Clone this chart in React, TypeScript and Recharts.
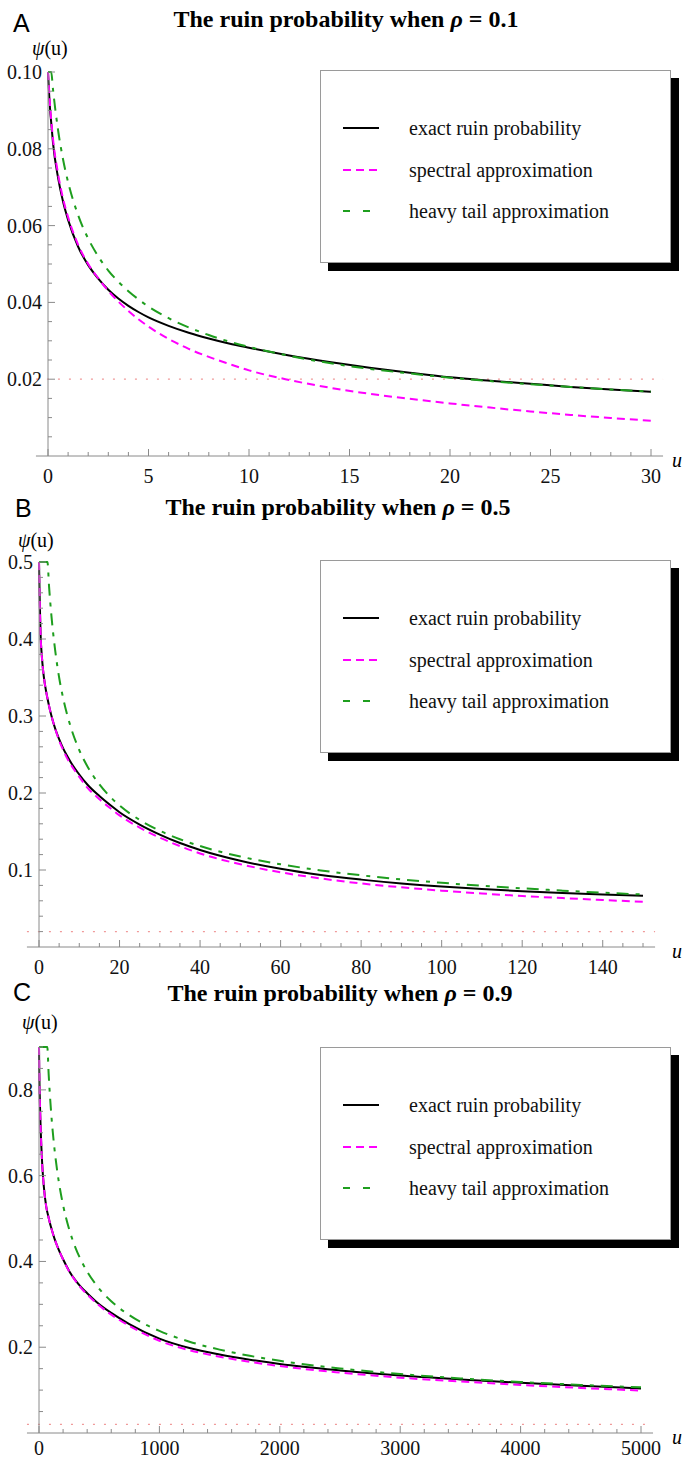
import React from 'react';
import { LineChart, Line, XAxis, YAxis, ReferenceLine, Legend } from 'recharts';

// ---------- Panel A (rho = 0.1) ----------
const uA = [0, 0.1, 0.16, 0.25, 0.5, 0.75, 1, 1.5, 2, 2.5, 3, 3.5, 4, 4.5, 5, 6, 7, 8, 9, 10, 12, 14, 16, 18, 20, 22, 24, 26, 28, 30];
const exactA = [0.1, 0.0905, 0.0868, 0.0815, 0.0725, 0.0662, 0.0615, 0.0545, 0.0497, 0.0462, 0.0433, 0.041, 0.0391, 0.0375, 0.0361, 0.0339, 0.0321, 0.0306, 0.0293, 0.0282, 0.0262, 0.0245, 0.023, 0.0217, 0.0205, 0.0196, 0.0188, 0.018, 0.0173, 0.0167];
const spectralA = [0.1, 0.0915, 0.0875, 0.0825, 0.0735, 0.067, 0.0622, 0.055, 0.05, 0.0463, 0.043, 0.0402, 0.0378, 0.0356, 0.0337, 0.0305, 0.0279, 0.0258, 0.024, 0.0223, 0.0198, 0.0178, 0.0162, 0.0149, 0.0137, 0.0126, 0.0116, 0.0107, 0.0099, 0.0092];
const heavyA = [0.1, 0.1, 0.1, 0.0954, 0.0849, 0.0772, 0.0713, 0.0627, 0.0566, 0.052, 0.0483, 0.0454, 0.0429, 0.0408, 0.0389, 0.0359, 0.0335, 0.0315, 0.0298, 0.0284, 0.0261, 0.0242, 0.0227, 0.0215, 0.0204, 0.0195, 0.0187, 0.018, 0.0173, 0.0168];
const xLabelsA = [0, 5, 10, 15, 20, 25, 30];
const yLabelsA = [0.02, 0.04, 0.06, 0.08, 0.1];

// ---------- Panel B (rho = 0.5) ----------
const uB = [0, 0.2, 0.4, 0.7, 1, 1.5, 2.1, 2.5, 3, 4, 5, 6, 7, 8, 10, 12, 15, 18, 20, 25, 30, 35, 40, 50, 60, 70, 80, 90, 100, 110, 120, 130, 140, 150];
const exactB = [0.5, 0.445, 0.405, 0.378, 0.36, 0.34, 0.323, 0.313, 0.302, 0.284, 0.27, 0.258, 0.248, 0.239, 0.224, 0.211, 0.196, 0.183, 0.175, 0.159, 0.146, 0.135, 0.126, 0.112, 0.1015, 0.0935, 0.0875, 0.0825, 0.0785, 0.0752, 0.0725, 0.0702, 0.0682, 0.0665];
const spectralB = [0.5, 0.445, 0.405, 0.378, 0.36, 0.34, 0.323, 0.313, 0.302, 0.284, 0.268, 0.256, 0.245, 0.236, 0.221, 0.207, 0.192, 0.179, 0.171, 0.155, 0.142, 0.131, 0.1215, 0.1075, 0.097, 0.089, 0.0825, 0.0775, 0.0732, 0.0695, 0.0663, 0.0635, 0.061, 0.0588];
const heavyB = [0.5, 0.5, 0.5, 0.5, 0.5, 0.5, 0.5, 0.468, 0.435, 0.386, 0.35, 0.323, 0.3015, 0.2837, 0.2557, 0.2348, 0.2112, 0.1935, 0.1839, 0.165, 0.151, 0.14, 0.1311, 0.1175, 0.1074, 0.0995, 0.0931, 0.0878, 0.0834, 0.0795, 0.0762, 0.0732, 0.0705, 0.0682];
const xLabelsB = [0, 20, 40, 60, 80, 100, 120, 140];
const yLabelsB = [0.1, 0.2, 0.3, 0.4, 0.5];

// ---------- Panel C (rho = 0.9) ----------
const uC = [0, 2, 5, 10, 15, 20, 27, 40, 60, 69, 80, 90, 100, 130, 150, 175, 200, 250, 300, 350, 400, 480, 600, 750, 1000, 1250, 1500, 1750, 2000, 2500, 3000, 3500, 4000, 4500, 5000];
const exactC = [0.9, 0.85, 0.8, 0.745, 0.7, 0.665, 0.625, 0.575, 0.528, 0.515, 0.502, 0.49, 0.48, 0.452, 0.437, 0.42, 0.405, 0.378, 0.357, 0.34, 0.326, 0.305, 0.28, 0.254, 0.22, 0.198, 0.183, 0.171, 0.161, 0.146, 0.134, 0.125, 0.117, 0.11, 0.104];
const spectralC = [0.9, 0.85, 0.8, 0.745, 0.7, 0.665, 0.625, 0.575, 0.528, 0.515, 0.502, 0.49, 0.48, 0.452, 0.437, 0.42, 0.405, 0.377, 0.356, 0.338, 0.323, 0.302, 0.276, 0.25, 0.215, 0.193, 0.178, 0.166, 0.156, 0.141, 0.129, 0.12, 0.112, 0.105, 0.099];
const heavyC = [0.9, 0.9, 0.9, 0.9, 0.9, 0.9, 0.9, 0.9, 0.9, 0.9, 0.838, 0.7906, 0.7504, 0.6587, 0.6134, 0.5681, 0.5315, 0.4756, 0.4342, 0.4021, 0.3762, 0.3434, 0.3072, 0.2748, 0.238, 0.2129, 0.1944, 0.18, 0.1683, 0.1506, 0.1375, 0.1273, 0.119, 0.1122, 0.1065];
const xLabelsC = [0, 1000, 2000, 3000, 4000, 5000];
const yLabelsC = [0.2, 0.4, 0.6, 0.8];

const seriesNames = ['exact ruin probability', 'spectral approximation', 'heavy tail approximation'];
const legendDash = ['', '8 5', '7 13'];
const seriesColors = ['#000000', '#ff00ff', '#1e9e1e'];
const seriesDash = ['', '8 5', '12 7 4 7'];

const AXIS = '#8a8a8a';
const SERIF = '"Liberation Serif", "Times New Roman", serif';
const SANS = '"Liberation Sans", Arial, sans-serif';

function range(step: number, max: number): number[] {
  const out: number[] = [];
  const n = Math.round(max / step);
  for (let i = 0; i <= n; i++) out.push(+(i * step).toFixed(6));
  return out;
}
const isIn = (arr: number[], v: number) => arr.some((a) => Math.abs(a - v) < 1e-9);

type PanelProps = {
  top: number;
  height: number;
  plotLeft: number;
  plotTop: number;
  plotRight: number;
  plotBottom: number;
  u: number[];
  exact: number[];
  spectral: number[];
  heavy: number[];
  xMax: number;
  yMax: number;
  xOver: number;
  xMinor: number;
  yMinor: number;
  xLabels: number[];
  yLabels: number[];
  yDigits: number;
  legendTop: number;
  refY: number;
  labelGap: number;
};

function LegendBox() {
  return (
    <div
      style={{
        width: 351,
        height: 193,
        boxSizing: 'border-box',
        border: '1px solid #9a9a9a',
        background: '#fff',
        boxShadow: '8px 8px 0 0 #000',
        position: 'relative',
        fontFamily: SERIF,
        fontSize: 20,
      }}
    >
      {seriesNames.map((name, i) => (
        <div key={name} style={{ position: 'absolute', left: 0, top: 57 + i * 41.5 - 15, height: 30, width: 351 }}>
          <svg width={60} height={30} style={{ position: 'absolute', left: 22, top: 0 }}>
            <line x1={0} y1={15} x2={36} y2={15} stroke={seriesColors[i]} strokeWidth={2} strokeDasharray={legendDash[i] || undefined} />
          </svg>
          <span style={{ position: 'absolute', left: 88, top: 0, lineHeight: '30px', whiteSpace: 'nowrap', color: '#111' }}>{name}</span>
        </div>
      ))}
    </div>
  );
}

function Panel(p: PanelProps) {
  const data = p.u.map((u, i) => ({ u, exact: p.exact[i], spectral: p.spectral[i], heavy: p.heavy[i] }));
  const xTicks = range(p.xMinor, p.xMax);
  const yTicks = range(p.yMinor, p.yMax).filter((v) => v > 0);

  const XTick = (props: any) => {
    const { x, y, payload } = props;
    const major = isIn(p.xLabels, payload.value);
    return (
      <g>
        <line x1={x} y1={y} x2={x} y2={y - (major ? 7 : 4)} stroke={AXIS} strokeWidth={1} />
        {major && (
          <text x={x} y={y + p.labelGap} dy="0.35em" textAnchor="middle" fontFamily={SERIF} fontSize={20} fill="#111">
            {payload.value}
          </text>
        )}
      </g>
    );
  };
  const YTick = (props: any) => {
    const { x, y, payload } = props;
    const major = isIn(p.yLabels, payload.value);
    return (
      <g>
        <line x1={x} y1={y} x2={x + (major ? 7 : 4)} y2={y} stroke={AXIS} strokeWidth={1} />
        {major && (
          <text x={x - 6} y={y} dy="0.35em" textAnchor="end" fontFamily={SERIF} fontSize={20} fill="#111">
            {Number(payload.value).toFixed(p.yDigits)}
          </text>
        )}
      </g>
    );
  };

  return (
    <div style={{ position: 'absolute', left: 0, top: p.top }}>
      <LineChart
        width={692}
        height={p.height}
        data={data}
        margin={{ top: p.plotTop, right: 692 - p.plotRight, left: 0, bottom: 0 }}
      >
        <XAxis
          dataKey="u"
          type="number"
          domain={[0, p.xMax]}
          ticks={xTicks}
          interval={0}
          axisLine={false}
          tickLine={false}
          tickSize={0}
          tickMargin={0}
          height={p.height - p.plotBottom}
          tick={XTick}
        />
        <YAxis
          type="number"
          domain={[0, p.yMax]}
          ticks={yTicks}
          interval={0}
          width={p.plotLeft}
          axisLine={{ stroke: AXIS }}
          tickLine={false}
          tickSize={0}
          tickMargin={0}
          tick={YTick}
        />
        <ReferenceLine
          segment={[{ x: -p.xOver, y: p.refY }, { x: p.xMax + p.xOver, y: p.refY }]}
          stroke="#f09a9a"
          strokeWidth={1.3}
          strokeDasharray="2 9"
          ifOverflow="visible"
        />
        <ReferenceLine
          segment={[{ x: -p.xOver, y: 0 }, { x: p.xMax + p.xOver, y: 0 }]}
          stroke={AXIS}
          ifOverflow="visible"
        />
        <Line dataKey="exact" name={seriesNames[0]} type="monotone" stroke={seriesColors[0]} strokeWidth={2} dot={false} isAnimationActive={false} />
        <Line dataKey="spectral" name={seriesNames[1]} type="monotone" stroke={seriesColors[1]} strokeWidth={2} strokeDasharray={seriesDash[1]} dot={false} isAnimationActive={false} />
        <Line dataKey="heavy" name={seriesNames[2]} type="monotone" stroke={seriesColors[2]} strokeWidth={2} strokeDasharray={seriesDash[2]} dot={false} isAnimationActive={false} />
        <Legend
          layout="vertical"
          align="center"
          verticalAlign="middle"
          wrapperStyle={{ position: 'absolute', left: 320, top: p.legendTop, width: 351, height: 193 }}
          content={() => <LegendBox />}
        />
      </LineChart>
    </div>
  );
}

function Title(props: { cx: number; cy: number; rho: string }) {
  return (
    <div
      style={{
        position: 'absolute',
        left: props.cx - 300,
        top: props.cy - 15,
        width: 600,
        lineHeight: '30px',
        textAlign: 'center',
        fontFamily: SERIF,
        fontWeight: 'bold',
        fontSize: 24,
        whiteSpace: 'nowrap',
      }}
    >
      The ruin probability when <i>ρ</i> = {props.rho}
    </div>
  );
}

function Label(props: { x: number; cy: number; text: React.ReactNode; font: string; size: number; italic?: boolean }) {
  return (
    <div
      style={{
        position: 'absolute',
        left: props.x,
        top: props.cy - 15,
        lineHeight: '30px',
        fontFamily: props.font,
        fontSize: props.size,
        fontStyle: props.italic ? 'italic' : 'normal',
        whiteSpace: 'nowrap',
      }}
    >
      {props.text}
    </div>
  );
}

const psi = (
  <span>
    <i>ψ</i>(u)
  </span>
);

export default function App() {
  return (
    <div style={{ position: 'absolute', left: 0, top: 0, width: 692, height: 1460, background: '#fff', overflow: 'hidden' }}>
      <Panel
        top={0}
        height={500}
        plotLeft={48}
        plotTop={72}
        plotRight={651}
        plotBottom={456}
        u={uA}
        exact={exactA}
        spectral={spectralA}
        heavy={heavyA}
        xMax={30}
        yMax={0.1}
        xOver={0.6}
        xMinor={1}
        yMinor={0.005}
        xLabels={xLabelsA}
        yLabels={yLabelsA}
        yDigits={2}
        legendTop={70}
        refY={0.02}
        labelGap={20}
      />
      <Panel
        top={488}
        height={500}
        plotLeft={39}
        plotTop={74}
        plotRight={643}
        plotBottom={459}
        u={uB}
        exact={exactB}
        spectral={spectralB}
        heavy={heavyB}
        xMax={150}
        yMax={0.5}
        xOver={3}
        xMinor={5}
        yMinor={0.02}
        xLabels={xLabelsB}
        yLabels={yLabelsB}
        yDigits={1}
        legendTop={72}
        refY={0.02}
        labelGap={20}
      />
      <Panel
        top={975}
        height={485}
        plotLeft={39}
        plotTop={72}
        plotRight={641}
        plotBottom={458}
        u={uC}
        exact={exactC}
        spectral={spectralC}
        heavy={heavyC}
        xMax={5000}
        yMax={0.9}
        xOver={100}
        xMinor={200}
        yMinor={0.05}
        xLabels={xLabelsC}
        yLabels={yLabelsC}
        yDigits={1}
        legendTop={72}
        refY={0.02}
        labelGap={15}
      />
      <Title cx={346} cy={19} rho="0.1" />
      <Title cx={338} cy={507} rho="0.5" />
      <Title cx={340} cy={993} rho="0.9" />
      <Label x={13} cy={23} text="A" font={SANS} size={25} />
      <Label x={15} cy={508} text="B" font={SANS} size={25} />
      <Label x={13} cy={992} text="C" font={SANS} size={25} />
      <Label x={32} cy={48} text={psi} font={SERIF} size={20} />
      <Label x={18} cy={540} text={psi} font={SERIF} size={20} />
      <Label x={22} cy={1022} text={psi} font={SERIF} size={20} />
      <Label x={672} cy={460} text="u" font={SERIF} size={20} italic />
      <Label x={672} cy={951} text="u" font={SERIF} size={20} italic />
      <Label x={672} cy={1437} text="u" font={SERIF} size={20} italic />
    </div>
  );
}
